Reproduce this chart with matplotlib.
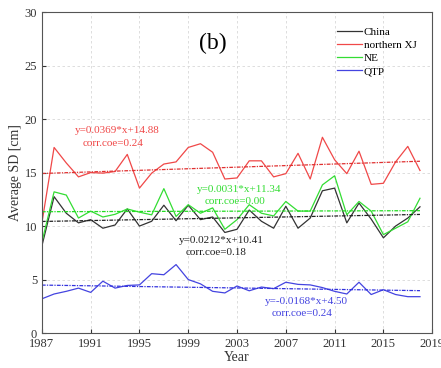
import matplotlib
matplotlib.use("Agg")
import matplotlib.pyplot as plt
import numpy as np

years = list(range(1987, 2019))
china = [8.15, 12.75, 11.2, 10.3, 10.6, 9.8, 10.1, 11.6, 10.0, 10.45, 11.95, 10.5, 11.95, 10.6, 10.85,
         9.4, 9.7, 11.5, 10.45, 9.8, 11.85, 9.8, 10.75, 13.3, 13.55, 10.3, 12.15, 10.65, 8.9, 10.0, 10.75, 11.8]
nxj = [10.3, 17.35, 15.9, 14.6, 15.0, 14.95, 15.1, 16.7, 13.55, 14.95, 15.8, 16.0, 17.35, 17.7, 16.9,
       14.4, 14.5, 16.1, 16.1, 14.6, 14.9, 16.8, 14.4, 18.3, 16.2, 14.9, 17.0, 13.9, 14.0, 16.0, 17.45, 15.2]
ne = [8.5, 13.2, 12.9, 10.75, 11.4, 10.85, 11.1, 11.6, 11.3, 11.05, 13.5, 10.9, 12.0, 11.2, 11.7,
      9.7, 10.6, 12.0, 11.2, 10.95, 12.3, 11.4, 11.4, 13.85, 14.7, 11.05, 12.3, 11.4, 9.2, 9.8, 10.4, 12.6]
qtp = [3.2, 3.65, 3.9, 4.2, 3.8, 4.85, 4.2, 4.45, 4.5, 5.55, 5.45, 6.4, 5.0, 4.6, 3.9,
       3.75, 4.4, 3.95, 4.3, 4.15, 4.75, 4.55, 4.5, 4.25, 3.9, 3.65, 4.75, 3.6, 4.05, 3.6, 3.4, 3.4]

series_names = ["China", "northern XJ", "NE", "QTP"]
slopes = [0.0212, 0.0369, 0.0031, -0.0168]
intercepts = [10.41, 14.88, 11.34, 4.50]
corrs = [0.18, 0.24, 0.00, 0.24]
colors = ["#333333", "#f04848", "#33dd33", "#4444e0"]
trend_colors = ["#222222", "#e03030", "#22dd22", "#3333dd"]

plt.rcParams['font.family'] = ['Liberation Serif', 'DejaVu Serif']

fig = plt.figure(figsize=(4.41, 3.68), dpi=100)
ax = fig.add_axes([0.095, 0.095, 0.885, 0.872])

data = [china, nxj, ne, qtp]
x = np.array(years)
idx = np.arange(1, len(years) + 1)
for d, c, n in zip(data, colors, series_names):
    ax.plot(x, d, color=c, lw=0.9, label=n)
for s, b, tc in zip(slopes, intercepts, trend_colors):
    ax.plot(x, s * idx + b, color=tc, lw=0.9, linestyle=(0, (3, 1, 1, 1)))

ax.set_xlim(1987, 2019)
ax.set_ylim(0, 30)
ax.set_xticks(range(1987, 2020, 4))
ax.set_yticks(range(0, 31, 5))
ax.tick_params(direction='in', labelsize=9, length=3, colors='#333333')
ax.grid(True, linestyle=(0, (3, 3)), color='#d8d8d8', lw=0.6)
for sp in ax.spines.values():
    sp.set_color('#555555')
    sp.set_linewidth(0.8)
ax.set_xlabel("Year", fontsize=10, labelpad=1, color='#333333')
ax.set_ylabel("Average SD [cm]", fontsize=10, labelpad=2, color='#333333')

ax.text(2001.0, 27.1, "(b)", fontsize=17, ha='center', va='center')

ann = [
    (1993.2, 18.9, 17.75, 1),
    (2001.7, 8.65, 7.5, 0),
    (2003.2, 13.45, 12.3, 2),
    (2008.7, 2.95, 1.8, 3),
]
for xc, y1, y2, i in ann:
    sign = "+" if intercepts[i] >= 0 else ""
    ax.text(xc, y1, f"y={slopes[i]:.4f}*x+{intercepts[i]:.2f}", color=colors[i] if i != 0 else "#222222",
            fontsize=8, ha='center', va='center')
    ax.text(xc - 0.4, y2, f"corr.coe={corrs[i]:.2f}", color=colors[i] if i != 0 else "#222222",
            fontsize=8, ha='center', va='center')

leg = ax.legend(loc='upper right', frameon=False, fontsize=8, handlelength=2.3,
                handletextpad=0.1, labelspacing=0.3, bbox_to_anchor=(0.985, 0.985))

fig.savefig("out.png", dpi=100)
